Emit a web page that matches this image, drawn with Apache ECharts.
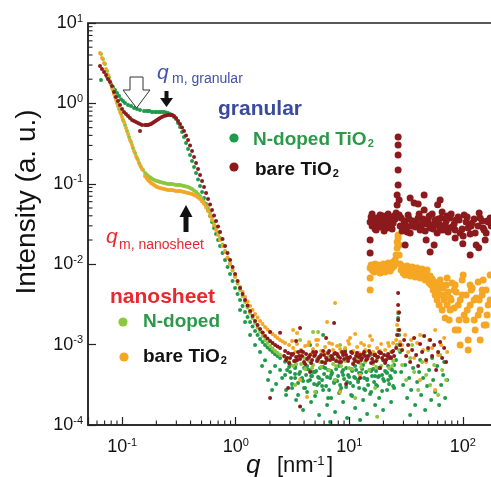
<!DOCTYPE html>
<html><head><meta charset="utf-8">
<script src="https://cdn.jsdelivr.net/npm/echarts@6/dist/echarts.min.js"></script>
<style>html,body{margin:0;padding:0;background:#fff;}#c{width:491px;height:477px;}</style>
</head><body><div id="c"></div>
<script>
// ---------- axis ticks ----------
const xMajorTicks = [0.1, 1, 10, 100];
const yMajorTicks = [1e-4, 1e-3, 1e-2, 1e-1, 1, 10];

// ---------- granular, N-doped TiO2 (dark green) ----------
const granularNdoped = [
[0.0651,1.95],[0.0735,2.13],[0.0766,1.95],[0.0797,1.74],[0.0830,1.60],[0.0865,1.47],[0.0901,1.35],[0.0938,1.24],[0.0977,1.13],[0.1017,1.07],[0.1059,1.01],[0.1126,0.955],[0.1197,0.928],[0.1272,0.877],[0.1351,0.852],[0.1436,0.828],[0.1557,0.804],[0.1689,0.804],[0.1832,0.782],[0.1987,0.782],[0.2155,0.782],[0.2336,0.782],[0.2533,0.760],[0.2748,0.717],[0.2980,0.640],[0.3232,0.509],[0.3505,0.382],[0.3802,0.271],[0.4123,0.192],[0.4471,0.136],[0.4850,0.0939],[0.5260,0.0666],[0.5705,0.0472],[0.6187,0.0335],[0.6710,0.0238],[0.7278,0.0168],[0.8054,0.0113],[0.8915,0.00755],[0.9865,0.00506],[1.092,0.00359],[1.208,0.00254],[1.338,0.00191],[1.480,0.00148],[1.638,0.00117],[1.813,0.00099],[2.007,0.00086],[2.221,0.00076],[2.458,0.00068],[2.721,0.00061],[3.011,0.00056],[3.333,0.00051],
[0.1638,0.804],[0.1741,0.804],[0.1850,0.782],[0.1966,0.782],[0.2090,0.782],[0.2243,0.782],[0.2433,0.770],[0.2639,0.738],[0.2861,0.677],[0.3104,0.570],[0.3366,0.441],[0.3651,0.3218],[0.3960,0.2282],[0.4295,0.1618],[0.4658,0.1131],[0.5052,0.0790],[0.5479,0.0561],[0.5942,0.0398],[0.6445,0.0282],[0.6990,0.0200],[0.7659,0.01378],[0.8474,0.00923],[0.9378,0.00618],[1.038,0.00426],[1.149,0.00302],[1.271,0.00220],[1.407,0.00168],[1.557,0.001316],[1.723,0.001077],[1.907,0.000920],[2.111,0.000809],[2.336,0.000722],
[1.092,0.00269],[1.208,0.00191],[1.338,0.00132],[1.480,0.00099],[1.638,0.00081],[1.813,0.00064],[1.706,0.00054],[2.007,0.000456],[2.221,0.000542],[2.458,0.000483],[2.721,0.000419],[3.011,0.000456],[3.333,0.000384],
[3.688,4.56e-4],[3.840,3.84e-4],[4.000,5.12e-4],[4.166,4.19e-4],[4.338,3.52e-4],[4.517,4.83e-4],[4.705,4.07e-4],[4.900,3.24e-4],[5.103,4.69e-4],[5.314,3.95e-4],[5.534,5.12e-4],[5.764,3.63e-4],[6.002,4.31e-4],[6.251,3.06e-4],[6.510,4.83e-4],[6.779,3.84e-4],[7.060,4.43e-4],[7.352,3.43e-4],[7.656,4.97e-4],[7.973,4.07e-4],[8.304,3.15e-4],[8.647,4.56e-4],[9.006,3.73e-4],[9.378,5.12e-4],[9.766,4.19e-4],[10.17,3.33e-4],[10.59,4.69e-4],[11.03,3.95e-4],[11.49,4.83e-4],[11.96,3.63e-4],[12.46,4.31e-4],[12.97,4.97e-4],[13.51,3.84e-4],[14.07,4.56e-4],[14.65,3.15e-4],[15.26,4.83e-4],[15.89,4.07e-4],[16.55,3.43e-4],[17.24,4.69e-4],[17.95,3.95e-4],[18.69,5.12e-4],[19.46,4.19e-4],[20.27,3.52e-4],[21.11,4.56e-4],[21.99,5.42e-4],[22.89,4.07e-4],[23.84,4.83e-4],[24.83,5.58e-4],
[2.834,4.83e-4],[3.073,3.84e-4],[3.333,5.42e-4],[3.614,4.31e-4],[3.920,3.52e-4],[4.251,4.97e-4],[4.610,4.07e-4],[5.000,4.56e-4],[5.424,3.33e-4],[5.883,5.26e-4],[6.379,3.95e-4],[6.918,4.69e-4],[7.503,3.63e-4],[8.137,5.42e-4],[8.826,4.19e-4],[9.570,3.43e-4],[10.38,4.97e-4],[11.26,3.84e-4],[12.21,4.43e-4],[13.24,5.58e-4],[14.36,3.63e-4],[15.57,4.69e-4],[16.89,4.07e-4],[18.32,5.12e-4],[19.86,3.73e-4],[21.54,4.43e-4],[23.36,4.97e-4],[25.34,4.56e-4],
[2.951,5.26e-4],[3.333,4.31e-4],[3.764,3.73e-4],[4.251,5.42e-4],[4.801,4.56e-4],[5.424,3.84e-4],[6.125,5.12e-4],[6.918,4.19e-4],[7.813,3.52e-4],[8.826,4.83e-4],[9.967,3.95e-4],[11.26,5.42e-4],[12.71,4.43e-4],[14.36,3.73e-4],[16.22,4.97e-4],[18.32,4.07e-4],[20.69,4.69e-4],[23.36,3.84e-4],
[2.777,2.72e-4],[3.135,3.24e-4],[3.542,2.36e-4],[4.000,2.885e-4],[4.517,3.63e-4],[5.103,2.57e-4],[5.764,3.06e-4],[6.510,2.17e-4],[7.352,3.33e-4],[8.304,2.65e-4],[9.378,2.97e-4],[10.59,2.29e-4],[11.96,3.43e-4],[13.51,2.80e-4],[15.26,2.43e-4],[17.24,3.15e-4],[19.46,2.65e-4],[21.99,3.63e-4],[24.83,2.885e-4],
[1.927,3.63e-4],[2.090,2.72e-4],[2.267,3.24e-4],[2.561,3.84e-4],[2.777,2.36e-4],[3.135,2.89e-4],[3.401,2.05e-4],[3.542,3.33e-4],[3.920,1.54e-4],[4.251,2.57e-4],[4.610,1.93e-4],[5.000,2.29e-4],[5.424,1.33e-4],[5.883,2.72e-4],[6.379,1.77e-4],[6.918,2.17e-4],[7.503,1.45e-4],[8.137,2.50e-4],[8.826,1.93e-4],[9.570,1.22e-4],[10.38,2.36e-4],[11.26,1.63e-4],[12.21,2.89e-4],[13.24,2.05e-4],[14.36,1.37e-4],[15.57,2.57e-4],[16.89,1.77e-4],[18.32,2.17e-4],[19.86,1.54e-4],[21.54,2.72e-4],[23.36,1.93e-4],[24.33,3.06e-4],[6.779,1.09e-4],[12.46,1.15e-4],
[4.082,2.89e-4],[5.207,3.15e-4],[6.642,2.72e-4],[8.473,2.89e-4],[10.81,3.06e-4],[13.79,2.72e-4],[17.59,3.06e-4],[22.43,3.24e-4],
[5.883,1.32e-3],[9.190,8.57e-4],[15.26,7.43e-4],[4.517,9.9e-4],
[25.85,6.43e-4],[26.39,9.9e-4],[26.93,1.52e-3],[26.93,2.14e-3],[26.93,2.47e-3],[27.48,1.32e-3],[28.04,8.09e-4],
[28.62,4.56e-4],[29.81,3.15e-4],[31.04,5.58e-4],[32.32,2.17e-4],[33.67,3.84e-4],[35.05,2.72e-4],[36.51,5.12e-4],[38.02,1.77e-4],[39.60,3.43e-4],[41.23,4.56e-4],[42.94,2.36e-4],[44.72,3.84e-4],[46.57,1.54e-4],[48.50,3.06e-4],[50.50,4.83e-4],[52.60,2.05e-4],[54.78,3.63e-4],[57.04,2.57e-4],[59.40,5.42e-4],[61.86,1.77e-4],[64.42,3.15e-4],[67.10,4.19e-4],[69.87,2.17e-4],[72.77,3.63e-4],[34.36,1.33e-4],[42.07,6.43e-4],[53.67,6.81e-4],[68.47,6.08e-4]
];

// ---------- nanosheet, N-doped (light green) ----------
const nanosheetNdoped = [
[0.0651,4.12],[0.0678,3.57],[0.0706,3.09],[0.0735,2.53],[0.0766,2.13],[0.0797,1.74],[0.0830,1.47],[0.0865,1.20],[0.0901,1.01],[0.0938,0.852],[0.0977,0.738],[0.1017,0.622],[0.1059,0.538],[0.1103,0.454],[0.1149,0.382],[0.1197,0.331],[0.1246,0.279],[0.1298,0.2416],[0.1351,0.2094],[0.1407,0.1815],[0.1466,0.1618],[0.1526,0.1484],
[0.1589,0.136],[0.1689,0.125],[0.1795,0.118],[0.1908,0.1115],[0.2027,0.1084],[0.2155,0.1052],[0.2336,0.1023],[0.2533,0.0994],[0.2748,0.0994],[0.2980,0.0966],[0.3232,0.0966],[0.3505,0.0939],[0.3802,0.0912],[0.4123,0.0862],[0.4471,0.0790],[0.4850,0.0705],[0.5260,0.0594],[0.5705,0.0500],[0.6187,0.0386],[0.6710,0.0290],[0.7278,0.0212],[0.8054,0.0146],[0.8915,0.0101],[0.9865,0.00693],[1.092,0.00477],[1.208,0.00339],[1.338,0.00247],[1.480,0.00186],[1.638,0.00144],[1.813,0.00114],[2.007,0.00096],[2.221,0.00083],[2.458,0.00074],
[0.1638,0.1305],[0.1741,0.1215],[0.1850,0.1147],[0.1966,0.1099],[0.2090,0.1068],[0.2243,0.1038],[0.2433,0.1009],[0.2639,0.0994],[0.2861,0.0980],[0.3104,0.0966],[0.3366,0.0952],[0.3651,0.0926],[0.3960,0.0887],[0.4295,0.0825],[0.4658,0.0746],[0.5052,0.0647],[0.5479,0.0545],[0.5942,0.0440],[0.6445,0.0335],[0.6990,0.0248],[0.7659,0.01758],[0.8474,0.01212],[0.9378,0.00835],[1.038,0.00575],[1.149,0.00402],[1.271,0.00289],[1.407,0.00214],[1.557,0.00163],[1.723,0.00128],[1.907,0.001047],[2.111,0.000894],[2.336,0.000786],
[2.721,7.01e-4],[2.951,6.08e-4],[3.201,5.42e-4],[3.471,6.43e-4],[3.764,5.74e-4],[4.082,4.97e-4],[4.427,6.25e-4],[4.801,5.58e-4],[5.207,6.62e-4],[5.646,5.26e-4],[6.125,6.08e-4],[6.642,4.83e-4],[7.204,5.74e-4],[7.813,6.81e-4],[8.473,5.42e-4],[9.190,6.25e-4],[9.967,5.12e-4],[10.81,5.90e-4],[11.72,6.62e-4],[12.71,5.26e-4],[13.79,6.08e-4],[14.95,4.83e-4],[16.22,5.74e-4],[17.59,6.43e-4],[19.07,5.42e-4],[20.69,6.08e-4],[22.43,5.12e-4],[24.33,6.25e-4],
[3.401,5.74e-4],[4.000,6.81e-4],[4.705,5.12e-4],[5.534,6.08e-4],[6.510,7.01e-4],[7.656,5.42e-4],[9.006,6.43e-4],[10.59,4.97e-4],[12.46,5.90e-4],[14.65,6.81e-4],[17.24,5.26e-4],[20.27,6.25e-4],[23.84,5.42e-4],
[3.333,3.15e-4],[5.000,2.57e-4],[7.503,3.63e-4],[11.26,2.17e-4],[16.89,2.89e-4],[3.688,1.14e-3],[8.304,9.9e-4],[4.801,1.43e-3],[5.314,1.43e-3],[17.59,1.27e-4],[13.79,8.09e-4],
[26.39,9.9e-4],[26.93,1.52e-3],[27.48,8.57e-4],
[29.20,5.58e-4],[31.67,3.63e-4],[34.36,6.81e-4],[37.26,4.56e-4],[40.41,2.72e-4],[43.82,6.08e-4],[47.52,4.19e-4],[51.54,3.15e-4],[55.90,5.58e-4],[60.62,2.36e-4],[65.74,4.83e-4],[71.30,3.63e-4],[35.77,9.9e-4],[49.49,8.57e-4],[63.13,7.43e-4]
];

// ---------- nanosheet, bare TiO2 (orange) ----------
const nanosheetBare = [
[0.0638,4.24],[0.0664,3.67],[0.0692,3.18],[0.0721,2.68],[0.0750,2.26],[0.0781,1.90],[0.0813,1.55],[0.0847,1.31],[0.0882,1.10],[0.0919,0.929],[0.0957,0.782],[0.0997,0.678],[0.1038,0.587],[0.1081,0.494],[0.1126,0.416],[0.1172,0.351],[0.1221,0.304],[0.1272,0.256],[0.1324,0.222],[0.1379,0.198],[0.1436,0.171],[0.1496,0.153],
[0.1589,0.125],[0.1689,0.1115],[0.1795,0.1023],[0.1908,0.0966],[0.2027,0.0912],[0.2155,0.0887],[0.2336,0.0862],[0.2533,0.0837],[0.2748,0.0837],[0.2980,0.0813],[0.3232,0.0813],[0.3505,0.0790],[0.3802,0.0768],[0.4123,0.0747],[0.4471,0.0705],[0.4850,0.0647],[0.5260,0.0561],[0.5705,0.0459],[0.6187,0.0355],[0.6710,0.0266],[0.7278,0.0200],[0.8054,0.0142],[0.8915,0.0101],[0.9865,0.00714],[1.092,0.00520],[1.208,0.00391],[1.338,0.00302],[1.480,0.00240],[1.638,0.00197],[1.813,0.00166],[2.007,0.00144],[2.221,0.00128],[2.458,0.00114],[2.721,0.00105],[2.951,0.00099],
[0.1638,0.118],[0.1741,0.1068],[0.1850,0.0994],[0.1966,0.0939],[0.2090,0.0899],[0.2243,0.0874],[0.2433,0.0849],[0.2639,0.0837],[0.2861,0.0825],[0.3104,0.0813],[0.3366,0.0802],[0.3651,0.0779],[0.3960,0.0757],[0.4295,0.0726],[0.4658,0.0676],[0.5052,0.0602],[0.5479,0.0507],[0.5942,0.0403],[0.6445,0.0307],[0.6990,0.0231],[0.7659,0.01684],[0.8474,0.01194],[0.9378,0.00847],[1.038,0.00609],[1.149,0.00451],[1.271,0.00344],[1.407,0.00269],[1.557,0.00217],[1.723,0.00180],[1.907,0.00154],[2.111,0.001355],[2.336,0.001209],[2.586,0.001093],
[3.201,9.07e-4],[3.471,1.02e-3],[3.764,8.57e-4],[4.082,9.61e-4],[4.427,1.08e-3],[4.801,8.82e-4],[5.207,9.89e-4],[5.646,8.32e-4],[6.125,9.34e-4],[6.642,1.05e-3],[7.204,8.57e-4],[7.813,9.61e-4],[8.473,8.09e-4],[9.190,9.07e-4],[9.967,1.02e-3],[10.81,8.32e-4],[11.72,9.34e-4],[12.71,1.05e-3],[13.79,8.57e-4],[14.95,9.61e-4],[16.22,8.09e-4],[17.59,9.07e-4],[19.07,1.02e-3],[20.69,8.57e-4],[22.43,9.61e-4],[24.33,1.05e-3],
[3.333,8.09e-4],[4.610,7.64e-4],[6.379,7.86e-4],[8.826,7.64e-4],[12.21,7.86e-4],[16.89,7.64e-4],[23.36,8.09e-4],
[3.135,1.109e-3],[3.688,7.86e-4],[4.338,9.89e-4],[5.103,1.14e-3],[6.002,8.09e-4],[7.060,1.02e-3],[8.304,8.82e-4],[9.766,1.109e-3],[11.49,7.86e-4],[13.51,9.89e-4],[15.89,1.14e-3],[18.69,8.32e-4],[21.99,1.05e-3],
[1.741,1.39e-3],[3.201,1.52e-3],[3.471,1.39e-3],[4.251,2.23e-4],[6.379,1.91e-3],[7.503,3.29e-3],[10.17,1.21e-3],[15.26,1.28e-3],[3.688,3.63e-4],[8.304,2.57e-4],[12.46,4.19e-4],[5.314,1.14e-3],[11.26,1.35e-3],
[25.85,1.14e-3],[26.39,1.75e-3],[26.93,2.54e-3],[27.48,1.52e-3],[28.04,1.08e-3],
[29.20,9.9e-4],[31.04,1.32e-3],[32.99,8.09e-4],[35.05,1.14e-3],[37.26,6.81e-4],[39.60,1.05e-3],[42.07,1.32e-3],[44.72,8.57e-4],[47.52,6.08e-4],[50.50,1.14e-3],[53.67,9.07e-4],[57.04,1.52e-3],[60.62,7.43e-4],[64.42,9.9e-4],[68.47,1.21e-3],[72.77,8.09e-4],[42.07,3.63e-4],[57.04,2.72e-4]
];

// ---------- granular, bare TiO2 (dark red) ----------
const granularBare = [
[0.0638,2.92],[0.0664,2.68],[0.0692,2.46],[0.0721,2.26],[0.0750,2.01],[0.0781,1.85],[0.0813,1.65],[0.0847,1.39],[0.0882,1.20],[0.0919,1.07],[0.0957,0.955],[0.0997,0.852],[0.1038,0.782],[0.1081,0.738],[0.1126,0.697],[0.1172,0.658],[0.1221,0.622],[0.1272,0.604],[0.1324,0.587],[0.1379,0.570],[0.1436,0.554],[0.1496,0.538],[0.1589,0.538],[0.1689,0.538],[0.1795,0.554],[0.1908,0.587],[0.2027,0.622],[0.2155,0.658],[0.2336,0.697],[0.2533,0.717],[0.2748,0.717],[0.2980,0.658],[0.3232,0.554],[0.3505,0.454],[0.3802,0.351],[0.4123,0.256],[0.4471,0.1815],[0.4850,0.1287],[0.5260,0.0912],[0.5705,0.0647],[0.6187,0.0472],[0.6710,0.0345],[0.7278,0.0252],[0.8054,0.0168],[0.8915,0.0113],[0.9865,0.00755],[1.092,0.00506],[1.208,0.00359],[1.338,0.00262],[1.480,0.00197],[1.638,0.00156],[1.813,0.00128],[2.007,0.00111],[2.221,0.00099],[2.458,0.00091],
[0.1638,0.538],[0.1741,0.546],[0.1850,0.570],[0.1966,0.604],[0.2090,0.640],[0.2243,0.677],[0.2433,0.707],[0.2639,0.717],[0.2861,0.697],[0.3104,0.604],[0.3366,0.501],[0.3651,0.399],[0.3960,0.2996],[0.4295,0.2155],[0.4658,0.1528],[0.5052,0.1083],[0.5479,0.0768],[0.5942,0.0553],[0.6445,0.0403],[0.6990,0.0294],[0.7659,0.0206],[0.8474,0.01378],[0.9378,0.00923],[1.038,0.00618],[1.149,0.00426],[1.271,0.00306],[1.407,0.00227],[1.557,0.00175],[1.723,0.001414],[1.907,0.00119],[2.111,0.001047],[2.336,0.000947],
[0.1436,0.454],
[2.666,7.22e-4],[2.777,6.43e-4],[2.892,7.86e-4],[3.011,6.81e-4],[3.135,7.43e-4],[3.266,6.25e-4],[3.401,7.01e-4],[3.542,8.09e-4],[3.688,6.62e-4],[3.840,7.22e-4],[4.000,6.08e-4],[4.166,7.64e-4],[4.338,6.81e-4],[4.517,7.43e-4],[4.705,6.43e-4],[4.900,7.22e-4],[5.103,8.09e-4],[5.314,6.62e-4],[5.534,7.01e-4],[5.764,6.08e-4],[6.002,7.43e-4],[6.251,6.81e-4],[6.510,7.86e-4],[6.779,6.43e-4],[7.060,7.01e-4],[7.352,7.64e-4],[7.656,6.25e-4],[7.973,7.22e-4],[8.304,6.81e-4],[8.647,8.09e-4],[9.006,6.62e-4],[9.378,7.43e-4],[9.766,6.25e-4],[10.17,7.01e-4],[10.59,7.86e-4],[11.03,6.62e-4],[11.49,7.22e-4],[11.96,6.08e-4],[12.46,7.43e-4],[12.97,6.81e-4],[13.51,8.09e-4],[14.07,6.43e-4],[14.65,7.22e-4],[15.26,7.86e-4],[15.89,6.62e-4],[16.55,7.43e-4],[17.24,6.25e-4],[17.95,7.01e-4],[18.69,7.86e-4],[19.46,6.81e-4],[20.27,7.43e-4],[21.11,6.43e-4],[21.99,7.64e-4],[22.89,7.01e-4],[23.84,8.09e-4],[24.83,7.22e-4],
[2.721,8.32e-4],[2.951,5.90e-4],[3.201,7.64e-4],[3.471,6.43e-4],[3.764,8.32e-4],[4.082,5.74e-4],[4.427,7.01e-4],[4.801,8.09e-4],[5.207,6.25e-4],[5.646,7.43e-4],[6.125,5.90e-4],[6.642,8.32e-4],[7.204,6.62e-4],[7.813,7.64e-4],[8.473,6.08e-4],[9.190,8.09e-4],[9.967,6.81e-4],[10.81,5.74e-4],[11.72,7.86e-4],[12.71,6.43e-4],[13.79,7.22e-4],[14.95,8.32e-4],[16.22,6.08e-4],[17.59,7.01e-4],[19.07,7.86e-4],[20.69,5.90e-4],[22.43,6.81e-4],[24.33,8.32e-4],
[2.834,6.81e-4],[3.073,7.64e-4],[3.333,6.25e-4],[3.614,7.22e-4],[3.920,8.09e-4],[4.251,6.62e-4],[4.610,5.90e-4],[5.000,7.43e-4],[5.424,7.01e-4],[5.883,8.32e-4],[6.379,6.43e-4],[6.918,7.22e-4],[7.503,7.86e-4],[8.137,6.08e-4],[8.826,7.43e-4],[9.570,6.81e-4],[10.38,8.09e-4],[11.26,6.25e-4],[12.21,7.01e-4],[13.24,7.64e-4],[14.36,6.62e-4],[15.57,5.90e-4],[16.89,7.43e-4],[18.32,8.09e-4],[19.86,6.43e-4],[21.54,7.22e-4],[23.36,6.81e-4],
[2.007,1.43e-3],[2.458,1.40e-3],[3.688,1.61e-3],[7.352,1.86e-3],[6.251,1.21e-3],[2.007,2.17e-4],[2.892,2.88e-4],[4.517,4.56e-4],[3.688,1.70e-4],[9.378,3.24e-4],[12.46,3.84e-4],[18.69,5.12e-4],[3.401,1.11e-3],
[25.85,9.07e-4],[26.39,1.32e-3],[26.93,2.02e-3],[26.93,3.11e-3],[26.93,4.38e-3],[27.48,2.50e-3],[27.48,1.52e-3],[28.04,9.9e-4],
[29.20,8.57e-4],[30.42,1.14e-3],[31.67,7.22e-4],[32.99,9.9e-4],[34.36,6.08e-4],[35.77,8.57e-4],[37.26,1.21e-3],[38.80,7.43e-4],[40.41,5.42e-4],[42.07,1.02e-3],[43.82,8.09e-4],[45.63,1.28e-3],[47.52,6.43e-4],[49.49,9.07e-4],[51.54,1.14e-3],[53.67,7.22e-4],[55.90,9.9e-4],[58.21,4.83e-4],[60.62,8.09e-4],[63.13,1.08e-3],[65.74,6.81e-4],[68.47,9.07e-4],[71.30,6.08e-4]
];

// ---------- high-q (WAXS) data ----------
const granularBareWaxs = [
[15.26,0.0200],[15.26,0.0138],[15.26,0.0335],[15.57,0.0386],[15.89,0.0299],[16.21,0.0316],[16.55,0.0365],[16.89,0.0274],[17.24,0.0316],[17.59,0.0375],[17.95,0.0344],[18.32,0.0325],[18.69,0.0290],[19.07,0.0307],[19.46,0.0355],[19.86,0.0398],[20.27,0.0307],[20.69,0.0344],[21.11,0.0335],[21.54,0.0282],[21.99,0.0375],[22.43,0.0355],[22.89,0.0316],[23.36,0.0299],[23.84,0.0355],[24.33,0.0325],[24.83,0.0398],[25.34,0.0365],[25.85,0.0433],
[15.89,0.0421],[17.24,0.0266],[18.69,0.0409],[20.27,0.0259],[21.99,0.0421],[23.84,0.0274],
[26.39,0.0545],[26.39,0.0726],[26.93,0.0966],[26.93,0.1485],[26.93,0.228],[26.93,0.304],[26.93,0.382],[27.48,0.0629],[27.48,0.0409],
[28.04,0.0299],[28.62,0.0375],[29.20,0.0259],[29.81,0.0282],[30.42,0.0344],[31.04,0.0316],[31.67,0.0282],[32.32,0.0251],[32.99,0.0409],[33.67,0.0365],[34.36,0.0244],[35.05,0.0299],[35.77,0.0325],[36.51,0.0344],[37.26,0.0577],[38.02,0.0290],[38.80,0.0299],[39.60,0.0316],[40.41,0.0375],[41.23,0.0421],[42.07,0.0266],[42.94,0.0290],[43.82,0.0316],[44.72,0.0365],[45.63,0.0472],[46.57,0.0259],[47.52,0.0200],[48.50,0.0316],[49.49,0.0355],[50.50,0.0398],[51.54,0.0282],[52.60,0.0307],[53.67,0.0421],[54.78,0.0274],[55.90,0.0173],[57.04,0.0355],[58.21,0.0307],[59.40,0.0244],[60.62,0.0365],[61.86,0.0316],[63.13,0.0266],[64.42,0.0375],[65.74,0.0446],[67.10,0.0266],[68.47,0.0299],[69.87,0.0307],[71.30,0.0344],[72.77,0.0398],[74.26,0.0252],[75.78,0.0282],[77.33,0.0375],[80.53,0.0290],[83.87,0.0316],[87.35,0.0355],[90.95,0.0386],[94.71,0.0244],[98.63,0.0274],[102.7,0.0409],[106.99,0.0335],[111.4,0.0282],[116.0,0.0237],[120.8,0.0325],[125.8,0.0365],[131.1,0.0173],[136.5,0.0299],[142.1,0.0375],[148.0,0.0344],[154.1,0.0266],[160.5,0.0244],[167.2,0.0335],[174.1,0.0375],[177.7,0.0299],
[78.9,0.0421],[85.6,0.0266],[92.8,0.0355],[100.7,0.0224],[109.2,0.0386],[118.4,0.0299],[128.4,0.0244],[139.3,0.0433],[151.1,0.0282],[163.8,0.0344],
[34.36,0.0666],[45.63,0.0726],[63.13,0.0629],[116.0,0.0130],[31.04,0.0173],[51.54,0.0142],[85.6,0.0212],[157.3,0.0200],[40.41,0.0560],[100.0,0.0180],[138.0,0.0160],[60.0,0.0550]
];
const nanosheetBareWaxs = [
[15.26,0.00898],[15.26,0.00674],[15.26,0.00477],[15.57,0.00977],[15.89,0.00847],[16.21,0.0095],[16.55,0.0080],[16.89,0.01007],[17.24,0.00898],[17.59,0.00823],[17.95,0.00977],[18.32,0.00871],[18.69,0.00778],[19.07,0.0095],[19.46,0.00847],[19.86,0.01007],[20.27,0.00898],[20.69,0.0080],[21.11,0.00977],[21.54,0.00871],[21.99,0.01035],[22.43,0.00923],[22.89,0.00823],[23.36,0.01007],[23.84,0.00898],[24.33,0.01065],[24.83,0.0095],[25.34,0.0113],[25.85,0.0130],
[26.39,0.0159],[26.39,0.0189],[26.93,0.0212],[26.93,0.0231],[27.48,0.0173],[27.48,0.0130],[28.04,0.01007],
[28.62,0.00847],[29.20,0.0095],[29.81,0.00778],[30.42,0.00898],[31.04,0.00734],[31.67,0.00847],[32.32,0.0095],[32.99,0.00778],[33.67,0.00871],[34.36,0.00714],[35.05,0.00823],[35.77,0.00923],[36.51,0.00755],[37.26,0.00847],[38.02,0.00693],[38.80,0.0080],[39.60,0.00898],[40.41,0.00734],[41.23,0.00823],[42.07,0.00674],[42.94,0.00778],[43.82,0.00871],[44.72,0.00714],[45.63,0.0080],[46.57,0.00636],[47.52,0.00734],[48.50,0.00847],[49.49,0.00674],[50.50,0.00584],[51.54,0.00714],[52.60,0.00551],[53.67,0.00655],[54.78,0.00477],[55.90,0.00601],[57.04,0.00414],[58.21,0.00536],[59.40,0.00359],[60.62,0.00477],[61.86,0.00311],[63.13,0.00636],[64.42,0.00414],[65.74,0.00269],[67.10,0.00506],[68.47,0.00359],[69.87,0.00214],[71.30,0.00551],[72.77,0.00311],[74.26,0.00451],[75.78,0.00202],[77.33,0.0038],[80.53,0.00584],[83.87,0.00285],[87.35,0.00451],[90.95,0.00152],[94.71,0.00359],[98.63,0.00636],[102.7,0.00233],[106.99,0.00414],[111.4,0.00114],[116.0,0.00311],[120.8,0.00506],[125.8,0.00202],[131.1,0.0038],[136.5,0.00601],[142.1,0.00269],[148.0,0.00414],[154.1,0.00175],[160.5,0.00477],[167.2,0.00311],[174.1,0.00734],
[78.9,0.00359],[85.6,0.00551],[92.8,0.00202],[100.7,0.00734],[109.2,0.00269],[118.4,0.00477],[128.4,0.00152],[139.3,0.00359],[151.1,0.00636],[163.8,0.00233],
[64.42,0.00551],[68.47,0.00414],[72.77,0.00674],[77.33,0.00269],[83.87,0.00477],[90.95,0.00311],[98.63,0.00414],[106.99,0.00202],[116.0,0.00551],[125.8,0.00359],[136.5,0.00233],[148.0,0.00477],[160.5,0.00175],[174.1,0.00359],
[94.71,9.9e-4],[111.4,8.57e-4],[142.1,0.00114],[85.6,0.00152]
];

// ---------- chart ----------
const FONT = '"Liberation Sans", Arial, Helvetica, sans-serif';
const COL = {gN:'#1f9a4a', gB:'#8c1a1c', nN:'#8dc63f', nB:'#f5a623'};
const chart = echarts.init(document.getElementById('c'), null, {renderer:'canvas'});

function expLabel(v){
  const l = Math.log10(v), e = Math.round(l);
  if (Math.abs(l - e) > 1e-6) return '';
  return '{b|10}{s|' + e + '}';
}
const labelRich = {
  b:{fontSize:18, fontFamily:FONT, color:'#111', lineHeight:20},
  s:{fontSize:11, fontFamily:FONT, color:'#111', verticalAlign:'top', lineHeight:11}
};
function sc(data, color, size, z){
  return {type:'scatter', data:data, symbolSize:size, itemStyle:{color:color, opacity:1}, z:z, silent:true, animation:false, clip:false};
}

chart.setOption({
  animation:false,
  grid:{left:88, top:23, width:409, height:402, containLabel:false, outerBoundsMode:'none', show:true, borderColor:'#222', borderWidth:1.5},
  xAxis:{type:'log', logBase:10, min:0.05, max:200,
    axisLine:{show:true, lineStyle:{color:'#222', width:1.5}},
    axisTick:{show:true, inside:true, length:8, lineStyle:{color:'#222', width:1.2}},
    axisLabel:{formatter:expLabel, rich:labelRich, margin:12, interval:0},
    splitLine:{show:false}},
  yAxis:{type:'log', logBase:10, min:1e-4, max:10,
    axisLine:{show:true, lineStyle:{color:'#222', width:1.5}},
    axisTick:{show:true, inside:true, length:8, lineStyle:{color:'#222', width:1.2}},
    axisLabel:{formatter:expLabel, rich:labelRich, margin:5, interval:0},
    splitLine:{show:false}},
  series:[
    sc(granularNdoped, COL.gN, 4, 2),
    sc(nanosheetNdoped, COL.nN, 4, 3),
    sc(nanosheetBare, COL.nB, 4, 4),
    sc(granularBare, COL.gB, 4, 5),
    sc(nanosheetBareWaxs, COL.nB, 7, 6),
    sc(granularBareWaxs, COL.gB, 7, 6)
  ]
});

// minor ticks from the axes' own scales
const g = [];
const y0 = chart.convertToPixel({yAxisIndex:0}, 1e-4);
const x0 = chart.convertToPixel({xAxisIndex:0}, 0.05);
for (let k = -2; k <= 2; k++) for (let m = 2; m <= 9; m++) {
  const v = m * Math.pow(10, k);
  if (v > 0.05 && v < 200) {
    const px = chart.convertToPixel({xAxisIndex:0}, v);
    g.push({type:'line', shape:{x1:px, y1:y0, x2:px, y2:y0-4.5}, style:{stroke:'#222', lineWidth:1.1}, silent:true, z:10});
  }
  if (v > 1e-4 && v < 10) {
    const py = chart.convertToPixel({yAxisIndex:0}, v);
    g.push({type:'line', shape:{x1:x0, y1:py, x2:x0+4.5, y2:py}, style:{stroke:'#222', lineWidth:1.1}, silent:true, z:10});
  }
}

function txt(x, y, text, o){
  return {type:'text', x:x, y:y, silent:true, z:20, style:Object.assign({text:text, fontFamily:FONT, fontSize:14, fill:'#111', align:'left', verticalAlign:'middle'}, o||{})};
}
const blue = '#4152a6', red = '#e8282e', green = '#2a9a48';
// axis titles
g.push({type:'text', x:27, y:202, rotation:Math.PI/2, silent:true, style:{text:'Intensity (a. u.)', fontFamily:FONT, fontSize:28, fill:'#111', align:'center', verticalAlign:'middle'}});
g.push(txt(246, 466, 'q', {fontSize:26, fontStyle:'italic'}));
g.push(txt(277, 466, '[nm', {fontSize:22}));
g.push(txt(313, 461, '-1', {fontSize:13}));
g.push(txt(327, 466, ']', {fontSize:22}));
// q_m labels
g.push(txt(157, 73, 'q', {fontSize:21, fontStyle:'italic', fill:blue}));
g.push(txt(172, 79, 'm, granular', {fontSize:14, fill:blue}));
g.push(txt(106, 237, 'q', {fontSize:21, fontStyle:'italic', fill:red}));
g.push(txt(119, 245, 'm, nanosheet', {fontSize:14, fill:red}));
// legend blocks
g.push(txt(218, 109, 'granular', {fontSize:21, fontWeight:'bold', fill:'#3b4b9c'}));
g.push({type:'circle', shape:{cx:234, cy:138, r:4.6}, style:{fill:COL.gN}, silent:true, z:20});
g.push({type:'circle', shape:{cx:234, cy:167, r:4.6}, style:{fill:COL.gB}, silent:true, z:20});
g.push(txt(253, 140, '{a|N-doped TiO}{b|2}', {rich:{a:{fontSize:19, fontWeight:'bold', fill:green, fontFamily:FONT}, b:{fontSize:11, fontWeight:'bold', fill:green, fontFamily:FONT, verticalAlign:'bottom', padding:[0,0,0,1]}}}));
g.push(txt(255, 170, '{a|bare TiO}{b|2}', {rich:{a:{fontSize:19, fontWeight:'bold', fill:'#111', fontFamily:FONT}, b:{fontSize:11, fontWeight:'bold', fill:'#111', fontFamily:FONT, verticalAlign:'bottom', padding:[0,0,0,1]}}}));
g.push(txt(110, 297, 'nanosheet', {fontSize:21, fontWeight:'bold', fill:red}));
g.push({type:'circle', shape:{cx:123, cy:322, r:4.6}, style:{fill:COL.nN}, silent:true, z:20});
g.push({type:'circle', shape:{cx:124, cy:357, r:4.6}, style:{fill:COL.nB}, silent:true, z:20});
g.push(txt(143, 322, 'N-doped', {fontSize:19, fontWeight:'bold', fill:green}));
g.push(txt(143, 357, '{a|bare TiO}{b|2}', {rich:{a:{fontSize:19, fontWeight:'bold', fill:'#111', fontFamily:FONT}, b:{fontSize:11, fontWeight:'bold', fill:'#111', fontFamily:FONT, verticalAlign:'bottom', padding:[0,0,0,1]}}}));
// arrows
g.push({type:'polygon', shape:{points:[[130,77],[143,77],[143,90],[150,90],[136.5,108],[123,90],[130,90]]}, style:{fill:'#fff', stroke:'#333', lineWidth:1}, silent:true, z:20});
g.push({type:'polygon', shape:{points:[[164.5,91],[168.5,91],[168.5,98],[173,98],[166.5,107],[160,98],[164.5,98]]}, style:{fill:'#111'}, silent:true, z:20});
g.push({type:'polygon', shape:{points:[[186,205],[192.5,217],[188.5,217],[188.5,232],[183.5,232],[183.5,217],[179.5,217]]}, style:{fill:'#111'}, silent:true, z:20});

chart.setOption({graphic:{elements:g}});
</script>
</body></html>
